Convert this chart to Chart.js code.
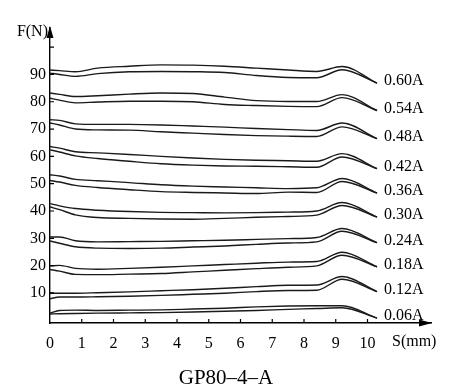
<!DOCTYPE html>
<html>
<head>
<meta charset="utf-8">
<script src="https://cdn.jsdelivr.net/npm/chart.js@4.4.1/dist/chart.umd.min.js"></script>
<style>
  html, body { margin: 0; padding: 0; background: #fff; }
</style>
</head>
<body>
<canvas id="fsChart" width="450" height="392"></canvas>
<script>
// displacement S (mm) where the curves were read
const sPoints = [0, 0.3, 0.8, 1.5, 2.5, 3.5, 4.5, 5.5, 6.5, 7.5, 8.4, 9.2, 10.3];

const currents = ['0.60A', '0.54A', '0.48A', '0.42A', '0.36A', '0.30A', '0.24A', '0.18A', '0.12A', '0.06A'];

// force F (N), upper and lower branch for each current
const up060 = [91.6, 91.4, 91.0, 92.3, 93.0, 93.5, 93.4, 93.0, 92.3, 91.6, 91.1, 92.9, 86.8];
const lo060 = [90.5, 90.0, 89.3, 90.3, 91.0, 91.1, 91.0, 90.7, 89.6, 88.9, 88.8, 91.7, 86.8];
const up054 = [83.2, 82.7, 81.9, 82.2, 82.8, 83.2, 83.0, 81.7, 80.4, 80.1, 80.1, 82.6, 76.8];
const lo054 = [81.3, 80.6, 79.6, 79.9, 80.2, 80.2, 80.0, 79.0, 78.6, 78.3, 78.2, 81.5, 76.8];
const up048 = [73.4, 73.2, 71.9, 71.7, 71.7, 71.5, 71.1, 70.7, 70.2, 69.8, 69.5, 72.2, 66.5];
const lo048 = [72.2, 71.5, 70.0, 69.7, 69.6, 69.0, 68.5, 68.0, 67.6, 67.4, 67.3, 70.8, 66.5];
const up042 = [63.6, 63.0, 61.7, 61.3, 60.7, 60.0, 59.4, 58.9, 58.6, 58.4, 58.2, 61.0, 55.5];
const lo042 = [62.4, 61.6, 60.2, 59.2, 58.2, 57.3, 56.8, 56.5, 56.4, 56.2, 56.0, 59.8, 55.5];
const up036 = [53.3, 52.8, 51.6, 51.1, 50.4, 49.6, 49.1, 48.8, 48.5, 48.2, 48.5, 51.9, 46.6];
const lo036 = [51.2, 50.6, 49.4, 48.6, 47.8, 47.1, 46.8, 46.6, 46.4, 46.9, 46.8, 50.8, 46.6];
const up030 = [42.7, 41.9, 40.9, 40.3, 39.8, 39.5, 39.4, 39.3, 39.4, 39.6, 40.0, 43.1, 37.8];
const lo030 = [41.5, 40.5, 38.6, 37.6, 37.3, 37.1, 37.0, 37.3, 37.7, 38.0, 38.5, 42.0, 37.8];
const up024 = [30.5, 30.5, 29.1, 28.7, 28.8, 28.9, 29.1, 29.3, 29.6, 29.9, 30.3, 33.6, 28.4];
const lo024 = [29.0, 28.2, 26.9, 26.4, 26.3, 26.4, 26.8, 27.2, 27.8, 28.3, 28.7, 32.6, 28.4];
const up018 = [19.9, 20.1, 19.0, 18.7, 19.0, 19.4, 19.9, 20.4, 20.9, 21.3, 21.5, 24.9, 19.6];
const lo018 = [18.6, 18.0, 16.8, 16.7, 16.9, 17.1, 17.7, 18.3, 18.9, 19.4, 19.9, 23.8, 19.6];
const up012 = [9.9, 9.9, 9.9, 10.1, 10.4, 10.8, 11.2, 11.7, 12.3, 12.8, 12.9, 16.0, 10.5];
const lo012 = [7.9, 8.5, 8.5, 8.6, 8.8, 9.1, 9.5, 9.9, 10.5, 10.9, 11.0, 15.0, 10.5];
const up006 = [2.6, 3.6, 3.7, 3.6, 3.7, 3.8, 4.1, 4.4, 4.9, 5.2, 5.3, 5.3, 0.8];
const lo006 = [2.3, 2.4, 2.5, 2.6, 2.7, 2.8, 3.0, 3.3, 3.6, 4.0, 4.3, 4.6, 0.8];

const xTickLabels = ['0', '1', '2', '3', '4', '5', '6', '7', '8', '9', '10'];
const yTickValues = [10, 20, 30, 40, 50, 60, 70, 80, 90, 100];

const loops = [
    [up060, lo060], [up054, lo054], [up048, lo048], [up042, lo042], [up036, lo036],
    [up030, lo030], [up024, lo024], [up018, lo018], [up012, lo012], [up006, lo006]
];

const serif = "'Liberation Serif', 'DejaVu Serif', serif";
const ink = '#1a1a1a';

function toPoints(values) {
    return values.map((f, i) => ({ x: sPoints[i], y: f }));
}

const datasets = [];
loops.forEach((pair, i) => {
    pair.forEach((values, k) => {
        datasets.push({
            label: currents[i] + (k === 0 ? ' up' : ' down'),
            data: toPoints(values),
            borderColor: ink,
            borderWidth: 1.4,
            pointRadius: 0,
            fill: false,
            cubicInterpolationMode: 'monotone'
        });
    });
});

// arrows, inward ticks, axis names, current labels and caption
const decorPlugin = {
    id: 'decor',
    afterDraw(chart) {
        const { ctx, chartArea, scales } = chart;
        const xs = scales.x, ys = scales.y;
        ctx.save();
        ctx.strokeStyle = '#000';
        ctx.fillStyle = '#000';
        ctx.lineWidth = 1.2;

        // inward tick marks
        ctx.beginPath();
        for (let v = 1; v <= 10; v++) {
            const px = xs.getPixelForValue(v);
            ctx.moveTo(px, chartArea.bottom);
            ctx.lineTo(px, chartArea.bottom - 4);
        }
        yTickValues.forEach(v => {
            const py = ys.getPixelForValue(v);
            ctx.moveTo(chartArea.left, py);
            ctx.lineTo(chartArea.left + 4, py);
        });
        ctx.stroke();

        // arrow heads
        const ax = chartArea.left, ay = chartArea.top;
        ctx.beginPath();
        ctx.moveTo(ax, ay - 2);
        ctx.lineTo(ax - 3.5, ay + 10);
        ctx.lineTo(ax + 3.5, ay + 10);
        ctx.closePath();
        ctx.fill();
        const bx = chartArea.right, by = chartArea.bottom;
        ctx.beginPath();
        ctx.moveTo(bx + 1, by);
        ctx.lineTo(bx - 12, by - 3.5);
        ctx.lineTo(bx - 12, by + 3.5);
        ctx.closePath();
        ctx.fill();

        // axis names
        ctx.font = '16px ' + serif;
        ctx.textBaseline = 'middle';
        ctx.textAlign = 'right';
        ctx.fillText('F(N)', chartArea.left - 2, chartArea.top + 4);
        ctx.textAlign = 'left';
        ctx.fillText('S(mm)', chartArea.right - 39, chartArea.bottom + 19);

        // current labels beside curve ends
        ctx.font = '16px ' + serif;
        loops.forEach((pair, i) => {
            const end = pair[0][pair[0].length - 1];
            ctx.fillText(currents[i], xs.getPixelForValue(10.52), ys.getPixelForValue(end) - 2);
        });

        // caption under the plot
        ctx.font = '21px ' + serif;
        ctx.textAlign = 'center';
        ctx.fillText('GP80–4–A', chart.width / 2 + 1, chartArea.bottom + 55);
        ctx.restore();
    }
};

new Chart(document.getElementById('fsChart'), {
    type: 'line',
    data: { datasets: datasets },
    options: {
        responsive: false,
        animation: false,
        layout: { padding: { top: 28, right: 19, left: 0, bottom: 34 } },
        plugins: {
            legend: { display: false },
            tooltip: { enabled: false }
        },
        scales: {
            x: {
                type: 'linear',
                min: 0,
                max: 12,
                grid: { display: false, drawTicks: false },
                border: { display: true, color: '#000', width: 1.4 },
                ticks: {
                    stepSize: 1,
                    autoSkip: false,
                    maxRotation: 0,
                    padding: 11,
                    color: '#000',
                    font: { family: serif, size: 16 },
                    callback: v => xTickLabels[v] || ''
                },
                afterFit: scale => { scale.height = 35; }
            },
            y: {
                type: 'linear',
                min: -1,
                max: 107,
                grid: { display: false, drawTicks: false },
                border: { display: true, color: '#000', width: 1.4 },
                afterBuildTicks: scale => { scale.ticks = yTickValues.map(v => ({ value: v })); },
                ticks: {
                    padding: 4,
                    color: '#000',
                    font: { family: serif, size: 16 },
                    callback: v => (v === 100 ? '' : String(v))
                },
                afterFit: scale => { scale.width = 50; }
            }
        }
    },
    plugins: [decorPlugin]
});
</script>
</body>
</html>
